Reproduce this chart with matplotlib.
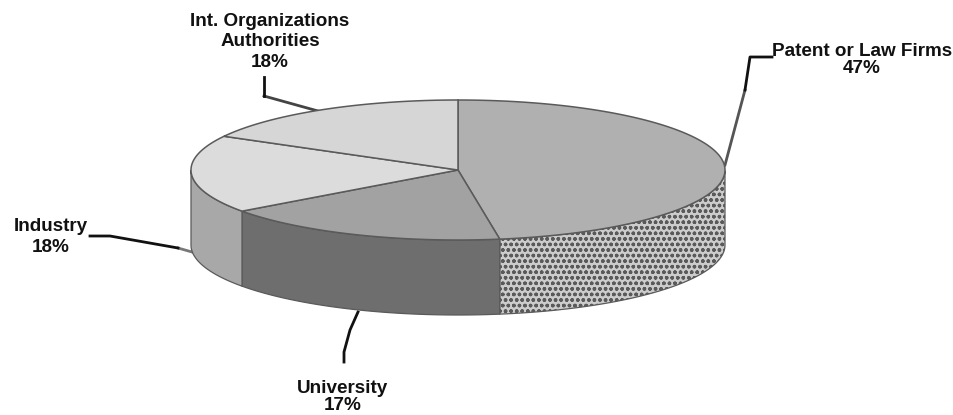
import numpy as np
import matplotlib
matplotlib.use("Agg")
import matplotlib.pyplot as plt
from matplotlib.patches import Polygon

labels = ["Patent or Law Firms", "University", "Industry", "Int. Organizations\nAuthorities"]
shares = [47, 17, 18, 18]
drawn_sizes = [47.5, 17.5, 18, 17]
top_colors = ["#b0b0b0", "#a2a2a2", "#dcdcdc", "#d6d6d6"]
side_colors = ["#cccccc", "#6e6e6e", "#a8a8a8", "#a8a8a8"]
side_hatch = ["ooo", None, None, None]

W, H = 954, 415
CX, CY, RX, RY, DEPTH = 458, 170, 267, 70, 75

plt.rcParams["font.family"] = ["Liberation Sans", "DejaVu Sans"]
plt.rcParams["hatch.linewidth"] = 1.0
plt.rcParams["hatch.color"] = "#6c6c6c"
fig = plt.figure(figsize=(W / 100, H / 100), dpi=100)
ax = fig.add_axes([0, 0, 1, 1])
ax.set_xlim(0, W)
ax.set_ylim(H, 0)
ax.axis("off")

def ell(t, dy=0):
    return np.column_stack([CX + RX * np.cos(t), CY + dy - RY * np.sin(t)])

edges = np.radians(90 - 3.6 * np.cumsum([0] + drawn_sizes))
edge_col = "#5a5a5a"

for i in range(len(shares)):
    t = np.linspace(edges[i], edges[i + 1], 120)
    top = np.vstack([[CX, CY], ell(t)])
    front = t[np.sin(t) <= 0]
    if len(front) > 1:
        wall = np.vstack([ell(front), ell(front[::-1], DEPTH)])
        ax.add_patch(Polygon(wall, closed=True, facecolor=side_colors[i],
                             hatch=side_hatch[i], edgecolor=edge_col, lw=0.9, zorder=2))
    ax.add_patch(Polygon(top, closed=True, facecolor=top_colors[i],
                         edgecolor=edge_col, lw=1.1, zorder=3))

lead = "#111111"
ax.plot([725, 745], [165, 90], color="#555555", lw=2, zorder=1)
ax.plot([745, 750, 772], [90, 57, 57], color=lead, lw=2, zorder=4)
ax.plot([264, 264, 318], [96, 96, 111], color="#444444", lw=2, zorder=1)
ax.plot([264, 264], [96, 77], color=lead, lw=2, zorder=4)
ax.plot([192, 178], [252, 248], color="#777777", lw=2, zorder=1)
ax.plot([178, 110, 90], [248, 236, 236], color=lead, lw=2, zorder=1)
ax.plot([358, 350, 344, 344], [312, 330, 352, 362], color=lead, lw=2, zorder=1)

style = dict(ha="center", va="center", fontweight="bold", fontsize=13.6, color="#111111")
ax.text(862, 60, f"{labels[0]}\n{shares[0]}%", linespacing=1.0, **style)
ax.text(343, 397, f"{labels[1]}\n{shares[1]}%", linespacing=1.05, **style)
ax.text(51, 237, f"{labels[2]}\n{shares[2]}%", linespacing=1.3, **style)
ax.text(270, 42, f"{labels[3]}\n{shares[3]}%", linespacing=1.25, **style)

fig.savefig("out.png", dpi=100)
